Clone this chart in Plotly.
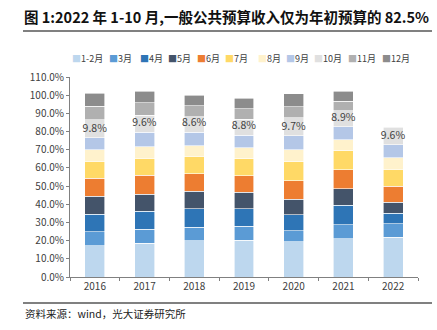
import plotly.graph_objects as go

# Share of the year-start budget collected in each period (%)
years = ["2016", "2017", "2018", "2019", "2020", "2021", "2022"]
months = ["1-2月", "3月", "4月", "5月", "6月", "7月", "8月", "9月", "10月", "11月", "12月"]

m01_02 = [17.2, 18.7, 20.0, 20.1, 19.4, 21.1, 21.8]
m03 = [7.7, 7.7, 7.5, 7.7, 6.1, 7.7, 7.5]
m04 = [9.7, 9.7, 10.0, 9.7, 8.7, 10.8, 5.9]
m05 = [9.7, 9.5, 9.6, 9.0, 8.5, 8.9, 5.8]
m06 = [9.9, 10.3, 9.7, 9.2, 10.2, 10.5, 8.8]
m07 = [9.4, 9.5, 9.5, 9.3, 10.5, 10.4, 9.4]
m08 = [6.4, 6.2, 6.0, 6.1, 6.6, 6.2, 6.4]
m09 = [6.7, 7.9, 7.2, 6.9, 7.8, 7.0, 7.1]
m10 = [9.8, 9.6, 8.6, 8.8, 9.7, 8.9, 9.6]
m11 = [7.3, 6.8, 6.2, 5.8, 6.1, 5.3, None]
m12 = [7.2, 6.2, 5.7, 5.7, 7.3, 5.5, None]

series = [m01_02, m03, m04, m05, m06, m07, m08, m09, m10, m11, m12]
colors = ["#BDD7EE", "#5B9BD5", "#2E75B6", "#44546A", "#ED7D31", "#FFD966",
          "#FFF2CC", "#B4C7E7", "#E0E0E0", "#B0B0B0", "#8C8C8C"]

FONT = "Noto Sans CJK SC"
TEXT = "#404040"

fig = go.Figure()
for name, vals, col in zip(months, series, colors):
    kw = {}
    if name == "10月":
        kw = dict(
            text=[f"{v:.1f}%" for v in vals],
            textposition="inside",
            insidetextanchor="start",
            textangle=0,
            constraintext="none",
            textfont=dict(family=FONT, size=10.5, color=TEXT),
        )
    fig.add_trace(go.Bar(
        x=years, y=vals, name=name,
        marker=dict(color=col, line=dict(color="white", width=0.6)),
        hoverinfo="skip", showlegend=False, **kw,
    ))

# Compact legend row built from coloured squares
legend_x = [70, 107, 138, 166, 195, 223, 256, 284, 312, 346, 380]
for x, name, col in zip(legend_x, months, colors):
    fig.add_annotation(
        xref="paper", yref="paper",
        x=(x - 70) / 348, y=(277 - 59) / 200,
        xanchor="left", yanchor="middle", showarrow=False,
        text=f"<span style='color:{col}'>■</span>{name}",
        font=dict(family=FONT, size=9, color=TEXT),
    )

# Title, rules and source note
fig.add_annotation(
    xref="paper", yref="paper", x=(22 - 70) / 348, y=(277 - 17) / 200,
    xanchor="left", yanchor="middle", showarrow=False,
    text="<b>图 1:2022 年 1-10 月,一般公共预算收入仅为年初预算的 82.5%</b>",
    font=dict(family=FONT, size=14.5, color="#111111"),
)
fig.add_annotation(
    xref="paper", yref="paper", x=(23 - 70) / 348, y=(277 - 313) / 200,
    xanchor="left", yanchor="middle", showarrow=False,
    text="资料来源：wind，光大证券研究所",
    font=dict(family=FONT, size=10.5, color="#222222"),
)
for yy in (31, 303):
    fig.add_shape(
        type="line", xref="paper", yref="paper",
        x0=(23 - 70) / 348, x1=(432 - 70) / 348,
        y0=(277 - yy) / 200, y1=(277 - yy) / 200,
        line=dict(color="#808080", width=2),
    )

fig.update_layout(
    barmode="stack",
    bargap=0.6,
    width=437, height=330,
    margin=dict(l=70, r=19, t=77, b=53),
    paper_bgcolor="white", plot_bgcolor="white",
    font=dict(family=FONT, color=TEXT, size=10),
)
fig.update_yaxes(
    range=[0, 110], dtick=10, tick0=0,
    ticksuffix="%", tickformat=".1f",
    showgrid=False, zeroline=False,
    showline=True, linecolor="#808080", linewidth=1,
    ticks="outside", ticklen=3, tickcolor="#808080",
    tickfont=dict(family=FONT, size=10, color=TEXT),
)
fig.update_xaxes(
    showgrid=False,
    showline=True, linecolor="#808080", linewidth=1,
    ticks="outside", ticklen=3, tickcolor="#808080",
    tickson="boundaries",
    tickfont=dict(family=FONT, size=10, color=TEXT),
)

fig.write_html("out.html")
